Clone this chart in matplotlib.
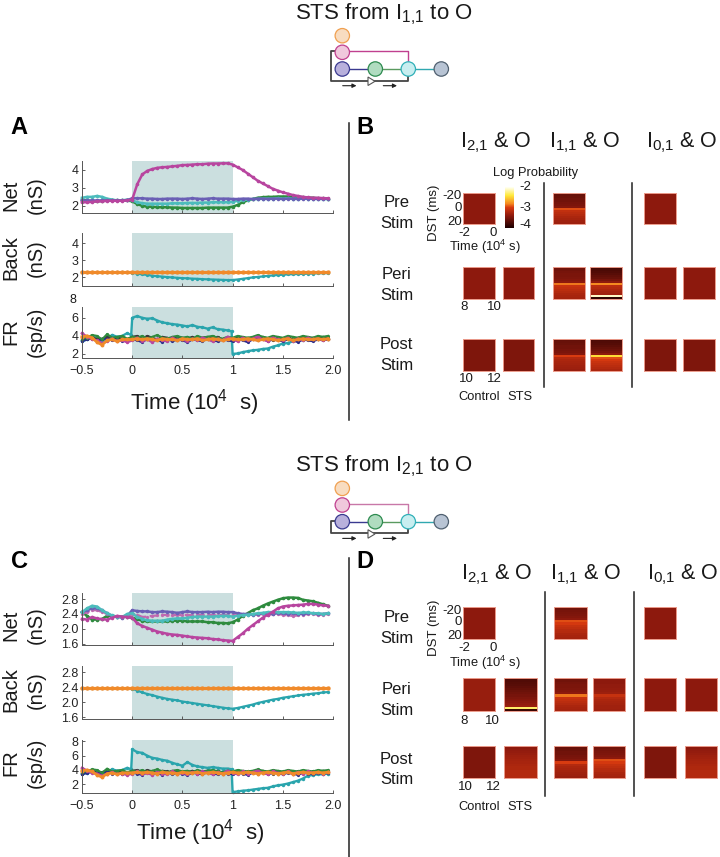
import numpy as np
import matplotlib
matplotlib.use('Agg')
import matplotlib.pyplot as plt
from matplotlib.cm import ScalarMappable
from matplotlib.colors import LinearSegmentedColormap, Normalize
from matplotlib.patches import Circle, Polygon

plt.rcParams['font.family'] = ['Liberation Sans', 'DejaVu Sans']
plt.rcParams['mathtext.fontset'] = 'custom'
plt.rcParams['mathtext.rm'] = 'Liberation Sans'
plt.rcParams['mathtext.default'] = 'regular'

W, H = 720, 857

# Tiempo (10^4 s), cada 0.05
t = np.arange(50) * 0.05 - 0.5
# las celdas estimuladas saltan casi en vertical en 0 y en 1
t_cell = np.sort(np.r_[t, [-0.01, 0.99]])

# Panel A, Net
a_net_magenta = [2.2, 2.2, 2.22, 2.25, 2.25, 2.28, 2.28, 2.28, 2.28, 2.3,
                 2.35, 3.2, 3.75, 3.95, 4.05, 4.12, 4.15, 4.17, 4.2, 4.23, 4.27, 4.28, 4.3, 4.32, 4.32, 4.35, 4.36, 4.36, 4.37, 4.37,
                 4.3, 4.15, 4.0, 3.8, 3.6, 3.4, 3.25, 3.1, 2.95, 2.85, 2.75, 2.68, 2.6, 2.55, 2.5, 2.47, 2.45, 2.45, 2.43, 2.42]
a_net_purple = [2.3, 2.3, 2.3, 2.3, 2.3, 2.3, 2.3, 2.3, 2.3, 2.32,
                2.42, 2.42, 2.42, 2.4, 2.4, 2.38, 2.38, 2.4, 2.4, 2.4, 2.38, 2.4, 2.42, 2.4, 2.38, 2.4, 2.42, 2.4, 2.4, 2.4,
                2.38, 2.38, 2.4, 2.4, 2.38, 2.4, 2.4, 2.38, 2.4, 2.4, 2.38, 2.4, 2.4, 2.38, 2.4, 2.4, 2.4, 2.38, 2.4, 2.4]
a_net_green = [2.35, 2.3, 2.25, 2.25, 2.28, 2.3, 2.3, 2.3, 2.3, 2.3,
               2.25, 2.1, 2.0, 1.95, 1.95, 1.92, 1.92, 1.92, 1.9, 1.9, 1.88, 1.88, 1.88, 1.88, 1.88, 1.9, 1.9, 1.9, 1.9, 1.9,
               1.95, 2.05, 2.2, 2.3, 2.38, 2.45, 2.48, 2.5, 2.5, 2.52, 2.52, 2.52, 2.5, 2.5, 2.48, 2.46, 2.45, 2.42, 2.42, 2.4]
a_net_cyan = [2.45, 2.5, 2.5, 2.55, 2.5, 2.4, 2.35, 2.3, 2.3, 2.35,
              2.3, 2.2, 2.15, 2.12, 2.12, 2.12, 2.12, 2.12, 2.14, 2.14, 2.14, 2.16, 2.16, 2.16, 2.18, 2.18, 2.2, 2.2, 2.2, 2.2,
              2.22, 2.28, 2.32, 2.35, 2.38, 2.38, 2.4, 2.4, 2.4, 2.42, 2.4, 2.42, 2.4, 2.4, 2.42, 2.4, 2.4, 2.4, 2.38, 2.38]

# Panel A, Back
a_back_flat = [2.3] * 50
a_back_teal = [2.3, 2.3, 2.3, 2.3, 2.3, 2.3, 2.3, 2.3, 2.3, 2.3,
               2.28, 2.22, 2.18, 2.15, 2.1, 2.07, 2.05, 2.02, 2.0, 1.98, 1.96, 1.95, 1.93, 1.92, 1.9, 1.89, 1.88, 1.87, 1.86, 1.85,
               1.85, 1.88, 1.92, 1.96, 2.0, 2.03, 2.06, 2.09, 2.12, 2.14, 2.16, 2.18, 2.19, 2.2, 2.21, 2.22, 2.23, 2.24, 2.25, 2.25]

# FR, celdas de fondo (casi iguales en A y C)
fr_orange = [3.9, 4.0, 3.8, 3.3, 3.0, 3.5, 3.6, 3.4, 3.6, 3.6,
             3.6, 3.7, 3.6, 3.7, 3.6, 3.5, 3.7, 3.6, 3.6, 3.5, 3.7, 3.6, 3.6, 3.7, 3.5, 3.6, 3.7, 3.6, 3.5, 3.6,
             3.7, 3.6, 3.6, 3.7, 3.6, 3.5, 3.6, 3.7, 3.6, 3.5, 3.6, 3.7, 3.5, 3.6, 3.7, 3.6, 3.6, 3.7, 3.6, 3.7]
fr_magenta = [4.3, 3.9, 3.6, 3.5, 3.2, 3.4, 3.7, 3.4, 3.5, 3.3,
              3.5, 3.8, 3.4, 3.6, 3.3, 3.7, 3.5, 3.4, 3.8, 3.5, 3.6, 3.4, 3.7, 3.5, 3.8, 3.6, 3.4, 3.7, 3.5, 3.9,
              3.6, 3.4, 3.8, 3.5, 3.7, 3.9, 3.6, 3.4, 3.8, 3.6, 3.5, 3.8, 3.4, 3.7, 3.5, 3.8, 3.6, 3.7, 3.5, 3.7]
fr_green = [3.7, 3.8, 4.1, 4.0, 3.6, 4.2, 3.8, 3.9, 4.0, 3.7,
            3.9, 3.8, 4.0, 3.7, 3.9, 4.1, 3.8, 3.7, 3.9, 4.0, 3.8, 3.9, 3.7, 4.0, 3.8, 3.9, 4.0, 3.8, 3.7, 3.9,
            3.8, 4.0, 3.9, 3.8, 3.9, 4.1, 3.9, 3.8, 4.0, 3.9, 3.8, 4.0, 3.9, 3.8, 4.0, 3.9, 3.8, 4.0, 3.9, 4.0]
fr_dark = [3.5, 3.7, 3.9, 3.6, 3.7, 3.9, 3.6, 3.8, 3.7, 3.6,
           3.9, 4.0, 3.7, 4.0, 3.8, 3.6, 3.9, 3.8, 3.6, 3.9, 3.8, 3.7, 3.9, 3.6, 3.8, 3.9, 3.7, 3.9, 3.6, 3.8,
           3.7, 3.9, 3.6, 3.8, 3.7, 3.6, 3.9, 3.7, 3.5, 3.8, 3.7, 3.9, 3.6, 3.8, 3.9, 3.6, 3.8, 3.7, 3.9, 3.8]
fr_navy = [3.4, 3.6, 3.7, 3.5, 3.6, 3.7, 3.5, 3.6, 3.4, 3.6,
           3.6, 3.5, 3.3, 3.7, 3.4, 3.6, 3.3, 3.7, 3.4, 3.6, 3.5, 3.3, 3.6, 3.5, 3.4, 3.7, 3.5, 3.4, 3.6, 3.5,
           3.4, 3.6, 3.5, 3.3, 3.6, 3.5, 3.7, 3.4, 3.6, 3.5, 3.4, 3.6, 3.5, 3.3, 3.6, 3.5, 3.4, 3.6, 3.5, 3.6]
# Estas dos llevan los dos puntos extra de t_cell
a_fr_teal = [3.4, 3.6, 3.9, 3.8, 3.4, 3.7, 4.1, 3.9, 4.0, 4.3, 4.1,
             6.0, 6.2, 6.0, 5.9, 5.95, 5.7, 5.5, 5.4, 5.3, 5.25, 5.15, 5.05, 5.2, 5.0, 4.95, 4.8, 4.95, 4.75, 4.7, 4.6, 4.5,
             2.0, 2.05, 2.2, 2.3, 2.4, 2.45, 2.55, 2.6, 2.8, 2.95, 3.15, 3.2, 3.4, 3.5, 3.55, 3.6, 3.65, 3.6, 3.7, 3.7]
c_fr_teal = [3.4, 3.6, 3.9, 3.8, 3.4, 3.7, 4.1, 3.9, 4.0, 4.3, 4.1,
             6.9, 6.5, 6.4, 6.0, 5.7, 5.6, 5.4, 5.3, 5.0, 4.8, 4.6, 5.1, 4.7, 4.5, 4.4, 4.3, 4.4, 4.3, 4.2, 4.2, 4.1,
             0.9, 1.0, 1.1, 1.15, 1.25, 1.35, 1.45, 1.5, 1.7, 1.85, 1.95, 2.1, 2.3, 2.5, 2.8, 3.2, 3.3, 3.4, 3.4, 3.5]

# Panel C, Net
c_net_magenta = [2.27, 2.25, 2.32, 2.28, 2.26, 2.25, 2.3, 2.35, 2.33, 2.32,
                 2.3, 2.15, 2.08, 2.03, 1.98, 1.93, 1.9, 1.87, 1.85, 1.84, 1.82, 1.8, 1.78, 1.77, 1.76, 1.75, 1.73, 1.72, 1.7, 1.69,
                 1.68, 1.78, 1.88, 2.0, 2.1, 2.2, 2.3, 2.38, 2.46, 2.55, 2.6, 2.62, 2.63, 2.64, 2.65, 2.67, 2.67, 2.65, 2.63, 2.62]
c_net_green = [2.45, 2.35, 2.25, 2.25, 2.27, 2.35, 2.35, 2.33, 2.33, 2.32,
               2.3, 2.26, 2.22, 2.2, 2.2, 2.2, 2.2, 2.2, 2.22, 2.22, 2.22, 2.2, 2.2, 2.2, 2.2, 2.18, 2.18, 2.16, 2.16, 2.15,
               2.18, 2.25, 2.35, 2.42, 2.5, 2.55, 2.62, 2.68, 2.73, 2.78, 2.82, 2.84, 2.84, 2.83, 2.78, 2.76, 2.74, 2.7, 2.66, 2.62]
c_net_purple = [2.45, 2.5, 2.55, 2.55, 2.5, 2.42, 2.35, 2.33, 2.3, 2.35,
                2.5, 2.48, 2.47, 2.47, 2.45, 2.45, 2.47, 2.46, 2.45, 2.43, 2.45, 2.47, 2.45, 2.45, 2.45, 2.46, 2.45, 2.46, 2.46, 2.45,
                2.45, 2.42, 2.4, 2.4, 2.38, 2.4, 2.42, 2.4, 2.4, 2.42, 2.42, 2.4, 2.42, 2.4, 2.4, 2.42, 2.42, 2.4, 2.4, 2.42]
c_net_cyan = [2.45, 2.55, 2.62, 2.6, 2.5, 2.42, 2.36, 2.33, 2.32, 2.4,
              2.42, 2.32, 2.27, 2.23, 2.22, 2.22, 2.22, 2.25, 2.27, 2.28, 2.28, 2.3, 2.32, 2.33, 2.33, 2.33, 2.33, 2.34, 2.35, 2.35,
              2.33, 2.35, 2.37, 2.38, 2.4, 2.42, 2.43, 2.45, 2.45, 2.45, 2.45, 2.45, 2.44, 2.43, 2.44, 2.44, 2.42, 2.42, 2.4, 2.42]
c_net_dashed = [2.4, 2.45, 2.5, 2.5, 2.45, 2.4, 2.35, 2.33, 2.32, 2.33,
                2.4, 2.38, 2.32, 2.33, 2.35, 2.36, 2.38, 2.37, 2.36, 2.38, 2.37, 2.38, 2.36, 2.38, 2.37, 2.38, 2.37, 2.36, 2.38, 2.37,
                2.36, 2.37, 2.38, 2.38, 2.4, 2.38, 2.4, 2.38, 2.4, 2.4, 2.38, 2.36, 2.35, 2.36, 2.38, 2.4, 2.4, 2.38, 2.38, 2.4]

# Panel C, Back
c_back_flat = [2.37] * 50
c_back_teal = [2.37, 2.37, 2.37, 2.37, 2.37, 2.37, 2.37, 2.37, 2.37, 2.37,
               2.36, 2.31, 2.26, 2.22, 2.19, 2.15, 2.12, 2.09, 2.07, 2.05, 2.02, 2.0, 1.98, 1.96, 1.94, 1.92, 1.9, 1.88, 1.86, 1.84,
               1.83, 1.85, 1.88, 1.91, 1.94, 1.98, 2.01, 2.04, 2.07, 2.09, 2.12, 2.14, 2.16, 2.18, 2.2, 2.21, 2.23, 2.24, 2.26, 2.27]

# Perfiles de log probabilidad por fila (de arriba a abajo)
flat_dark = [-3.48] * 16
flat_mid = [-3.4] * 16
flat_bright = [-3.35] * 16
band_pre = [-3.6, -3.6, -3.58, -3.55, -3.55, -3.52, -3.5, -3.45, -2.95, -3.12, -3.16, -3.2, -3.24, -3.27, -3.3, -3.32]
band_peri = [-3.55, -3.55, -3.52, -3.5, -3.5, -3.48, -3.45, -3.4, -2.85, -3.08, -3.12, -3.16, -3.2, -3.24, -3.26, -3.28]
band_peri_sts = [-3.78, -3.75, -3.72, -3.68, -3.64, -3.6, -3.52, -3.4, -2.8, -3.15, -3.2, -3.24, -3.28, -3.3, -2.1, -3.9]
band_post = [-3.62, -3.6, -3.58, -3.55, -3.55, -3.52, -3.5, -3.45, -3.0, -3.2, -3.24, -3.26, -3.28, -3.3, -3.32, -3.34]
band_post_sts = [-3.75, -3.72, -3.7, -3.66, -3.62, -3.58, -3.52, -3.4, -2.45, -2.95, -3.02, -3.08, -3.12, -3.16, -3.2, -3.24]
d_band_pre = [-3.55, -3.55, -3.52, -3.5, -3.48, -3.45, -3.4, -2.95, -3.02, -3.1, -3.14, -3.18, -3.2, -3.24, -3.26, -3.28]
d_band_weak = [-3.42, -3.4, -3.4, -3.38, -3.38, -3.36, -3.35, -3.32, -3.1, -3.2, -3.24, -3.26, -3.28, -3.3, -3.3, -3.32]
d_peri_sts = [-3.75, -3.72, -3.7, -3.68, -3.65, -3.62, -3.58, -3.55, -3.52, -3.48, -3.45, -3.42, -3.38, -3.35, -2.3, -3.85]
d_post_sts = [-3.42, -3.4, -3.38, -3.36, -3.34, -3.32, -3.3, -3.28, -3.26, -3.24, -3.22, -3.22, -3.2, -3.2, -3.2, -3.2]

cmap_dst = LinearSegmentedColormap.from_list(
    'dst', [(0, '#1e0000'), (0.3, '#8e1a0e'), (0.5, '#d83a10'), (0.6, '#f58a20'), (0.8, '#ffe83a'), (1, '#fffff0')])
norm_dst = Normalize(-4, -2)

C_MAGENTA = '#b8459f'
C_PURPLE = '#6a5fb5'
C_GREEN = '#2e8b3e'
C_CYAN = '#4cbcbc'
C_TEAL = '#2aa5ad'
C_ORANGE = '#f08a2a'
C_DARK = '#3a3a3a'
C_NAVY = '#2b2b8a'
C_PINK = '#c06ab0'
C_SHADE = '#cbdfdf'

fig = plt.figure(figsize=(W / 100, H / 100), dpi=100)

# Eje de fondo en pixeles para textos y el diagrama
bg = fig.add_axes([0, 0, 1, 1])
bg.set_xlim(0, W)
bg.set_ylim(H, 0)
bg.axis('off')


def ax_px(x0, y0, x1, y1):
    ax = fig.add_axes([x0 / W, 1 - y1 / H, (x1 - x0) / W, (y1 - y0) / H])
    ax.patch.set_alpha(0)
    return ax


def label(x, y, s, size=9.3, **kw):
    bg.text(x, y, s, fontsize=size, ha=kw.pop('ha', 'center'), va=kw.pop('va', 'center'), color='#1a1a1a', **kw)


def trace_axes(box, ylim, yticks, yfmt, series, xlabels=False):
    ax = ax_px(*box)
    ax.axvspan(0, 1, color=C_SHADE, lw=0, zorder=0)
    for x, y, col, ls, lw in series:
        ax.plot(x, y, color=col, lw=lw, ls=ls, marker='o', ms=lw + 0.8, mew=0, clip_on=False, zorder=2)
    ax.set_xlim(-0.5, 2.0)
    ax.set_ylim(*ylim)
    ax.set_yticks(yticks)
    ax.set_yticklabels([yfmt % v for v in yticks])
    ax.set_xticks([-0.5, 0, 0.5, 1, 1.5, 2.0])
    if xlabels:
        ax.set_xticklabels(['\u22120.5', '0', '0.5', '1', '1.5', '2.0'])
    else:
        ax.set_xticklabels([])
    ax.tick_params(direction='in', length=2.5, width=0.6, color='#444444', labelsize=9, pad=2.5, labelcolor='#222222')
    ax.tick_params(axis='x', pad=5)
    for side in ['top', 'right']:
        ax.spines[side].set_visible(False)
    for side in ['left', 'bottom']:
        ax.spines[side].set_linewidth(0.7)
        ax.spines[side].set_color('#555555')
    return ax


def heat(x0, y0, x1, y1, profile):
    ax = ax_px(x0, y0, x1, y1)
    ax.imshow(np.array(profile)[:, None], cmap=cmap_dst, norm=norm_dst, aspect='auto', interpolation='nearest')
    ax.set_xticks([])
    ax.set_yticks([])
    for s in ax.spines.values():
        s.set_color('#ec9c8c')
        s.set_linewidth(0.7)


def diagram(dy, src_y):
    xs = [342.3, 375.3, 408.3, 441.3]
    row = 69 + dy
    line = dict(solid_capstyle='butt', zorder=1)
    bg.plot([xs[0], xs[1]], [row, row], color='#3a3a90', lw=1, **line)
    bg.plot([xs[1], xs[2]], [row, row], color='#5a9a60', lw=1, **line)
    bg.plot([xs[2], xs[3]], [row, row], color='#30a8b0', lw=1, **line)
    bg.plot([xs[0], xs[2], xs[2]], [51 + dy, 51 + dy, 61.5 + dy], color='#c0408f' if dy == 0 else '#c878a8', lw=1, **line)
    bg.plot([335, 330.7, 330.7, xs[2], xs[2]], [src_y, src_y, 80.7 + dy, 80.7 + dy, 74 + dy], color='#444444', lw=1.3, **line)
    nodes = [(xs[0], 35.7 + dy, '#f8dcc0', '#f0a050'), (xs[0], 52.3 + dy, '#f0c8dc', '#c0408f'),
             (xs[0], row, '#b8b0dc', '#3a3a90'), (xs[1], row, '#b0dcc0', '#2e8b50'),
             (xs[2], row, '#c8eef0', '#30b0b8'), (xs[3], row, '#b8c4d4', '#506070')]
    for x, y, fc, ec in nodes:
        bg.add_patch(Circle((x, y), 7.2, fc=fc, ec=ec, lw=0.9, zorder=2))
    bg.add_patch(Polygon([(368, 77 + dy), (368, 85.5 + dy), (375, 81.3 + dy)], fc='white', ec='#555555', lw=0.8, zorder=3))
    for x0, x1 in [(342.7, 356.5), (383.3, 397)]:
        bg.annotate('', xy=(x1, 85.7 + dy), xytext=(x0, 85.7 + dy),
                    arrowprops=dict(arrowstyle='-|>', color='#222222', lw=0.8, mutation_scale=6, shrinkA=0, shrinkB=0))


# Titulos y diagramas
label(384, 14, 'STS from I$_{1{,}1}$ to O', size=16)
label(384, 466, 'STS from I$_{2{,}1}$ to O', size=16)
diagram(0, 51)
diagram(452.7, 521)

# Letras de panel
for x, y, s in [(19, 127, 'A'), (365, 127, 'B'), (20, 562, 'C'), (365, 562, 'D')]:
    bg.text(x, y, s, fontsize=17, fontweight='bold', ha='center', va='center')

# Separadores verticales
bg.plot([349, 349], [123, 420], color='#222222', lw=1.1)
bg.plot([349, 349], [558, 857], color='#222222', lw=1.1)
for x, y0, y1 in [(543.7, 183, 386.7), (632, 183, 386.7), (545, 592, 796), (633.7, 592, 796)]:
    bg.plot([x, x], [y0, y1], color='#222222', lw=1.1)

# Panel A
trace_axes((82, 161, 333, 213), (1.6, 4.5), [2, 3, 4], '%d',
           [(t, a_net_green, C_GREEN, '-', 1.8), (t, a_net_cyan, C_CYAN, '-', 1.8),
            (t, a_net_purple, C_PURPLE, '-', 1.8), (t, a_net_magenta, C_MAGENTA, '-', 1.8)])
trace_axes((82, 233, 333, 286), (1.5, 4.6), [2, 3, 4], '%d',
           [(t, a_back_teal, C_TEAL, '-', 1.6), (t, a_back_flat, C_ORANGE, '-', 2.3)])
fr_back = [(t, fr_dark, C_DARK, '-', 1.5), (t, fr_navy, C_NAVY, '-', 1.5), (t, fr_green, C_GREEN, '-', 1.5),
           (t, fr_magenta, C_MAGENTA, '-', 1.7), (t, fr_orange, C_ORANGE, '-', 2.0)]
trace_axes((82, 307, 333, 358), (1.55, 7.2), [2, 4, 6], '%d',
           [(t_cell, a_fr_teal, C_TEAL, '-', 1.7)] + fr_back, xlabels=True)
label(76, 300, '8', size=9, ha='right')
label(194, 403, 'Time (10$^{4}$  s)', size=16)

# Panel C
c_ticks = [1.6, 2.0, 2.4, 2.8]
trace_axes((82, 592.7, 333, 645), (1.57, 2.97), c_ticks, '%.1f',
           [(t, c_net_green, C_GREEN, '-', 1.8), (t, c_net_dashed, C_PINK, '--', 1.6), (t, c_net_purple, C_PURPLE, '-', 1.8),
            (t, c_net_cyan, C_CYAN, '-', 1.8), (t, c_net_magenta, C_MAGENTA, '-', 1.8)])
trace_axes((82, 666, 333, 719.3), (1.55, 2.96), c_ticks, '%.1f',
           [(t, c_back_teal, C_TEAL, '-', 1.6), (t, c_back_flat, C_ORANGE, '-', 2.3)])
trace_axes((82, 740, 333, 793), (0.78, 8.2), [2, 4, 6, 8], '%d',
           [(t_cell, c_fr_teal, C_TEAL, '-', 1.7)] + fr_back, xlabels=True)
label(200, 833, 'Time (10$^{4}$  s)', size=16)

# Etiquetas de eje y, rotadas
for y, top, bottom in [(195, 'Net', '(nS)'), (258, 'Back', '(nS)'), (332, 'FR', '(sp/s)'),
                       (625, 'Net', '(nS)'), (690, 'Back', '(nS)'), (763, 'FR', '(sp/s)')]:
    label(11, y, top, size=14.5, rotation=90)
    label(36, y, bottom, size=14.5, rotation=90)

# Panel B
b_cols = [(462.7, 494.7), (502.7, 534.3), (553, 585), (590.3, 622.3), (643.7, 675.7), (682.7, 714.7)]
b_rows = [(192.7, 224.3), (267.3, 299.3), (339, 370.7)]
b_cells = [(0, 0, flat_mid), (2, 0, band_pre), (4, 0, flat_mid),
           (0, 1, flat_mid), (1, 1, flat_mid), (2, 1, band_peri), (3, 1, band_peri_sts), (4, 1, flat_mid), (5, 1, flat_mid),
           (0, 2, flat_dark), (1, 2, flat_dark), (2, 2, band_post), (3, 2, band_post_sts), (4, 2, flat_dark), (5, 2, flat_dark)]
for c, r, prof in b_cells:
    heat(b_cols[c][0], b_rows[r][0], b_cols[c][1], b_rows[r][1], prof)

# Panel D
d_cols = [(462.7, 495.3), (504.3, 536.7), (554.3, 587), (592.7, 625.3), (644, 676.3), (684.7, 717)]
d_rows = [(607, 639.3), (678.3, 710.7), (745.7, 778)]
d_cells = [(0, 0, flat_mid), (2, 0, d_band_pre), (4, 0, flat_mid),
           (0, 1, flat_bright), (1, 1, d_peri_sts), (2, 1, band_peri), (3, 1, d_band_weak), (4, 1, flat_mid), (5, 1, flat_mid),
           (0, 2, flat_dark), (1, 2, d_post_sts), (2, 2, band_post), (3, 2, d_band_pre), (4, 2, flat_dark), (5, 2, d_post_sts)]
for c, r, prof in d_cells:
    heat(d_cols[c][0], d_rows[r][0], d_cols[c][1], d_rows[r][1], prof)

# Barra de color
cax = ax_px(505.3, 187.3, 514, 227.7)
cb = fig.colorbar(ScalarMappable(norm=norm_dst, cmap=cmap_dst), cax=cax)
cb.outline.set_visible(False)
cb.set_ticks([])
label(536, 172.7, 'Log Probability')
for y, s in [(187.3, '-2'), (207.7, '-3'), (225, '-4')]:
    label(525.7, y, s, size=9.5)

# Textos de los paneles de calor
hdr = ['I$_{2{,}1}$ & O', 'I$_{1{,}1}$ & O', 'I$_{0{,}1}$ & O']
for x, s in zip([495.7, 585, 681.7], hdr):
    label(x, 143, s, size=15.5)
for x, s in zip([497, 586, 683], hdr):
    label(x, 575, s, size=15.5)

texts = [(396.7, 202.7, 'Pre'), (396.7, 223.3, 'Stim'), (396.7, 274.3, 'Peri'), (396.7, 295.7, 'Stim'),
         (396.7, 344.3, 'Post'), (396.7, 365, 'Stim'), (396.7, 617.3, 'Pre'), (396.7, 638.3, 'Stim'),
         (396.7, 689.3, 'Peri'), (396.7, 710.7, 'Stim'), (396.7, 759.3, 'Post'), (396.7, 780, 'Stim')]
for x, y, s in texts:
    label(x, y, s, size=12)

small = [(458, 195.7, '-20'), (458, 207.7, '0'), (458, 221.7, '20'), (464.7, 232.7, '-2'), (493.3, 232.7, '0'),
         (464, 307.3, '8'), (494.3, 307.3, '10'), (466, 379.3, '10'), (494, 379.3, '12'),
         (458, 611, '-20'), (458, 622.3, '0'), (458, 636, '20'), (464.7, 648.3, '-2'), (493, 648.3, '0'),
         (463.7, 721, '8'), (492.7, 721, '10'), (465.7, 786.7, '10'), (493.3, 786.7, '12')]
for x, y, s in small:
    ha = 'right' if x == 458 else 'center'
    label(x + (4 if ha == 'right' else 0), y, s, size=9.5, ha=ha)

label(485, 247, 'Time (10$^{4}$ s)')
label(485, 663.3, 'Time (10$^{4}$ s)')
label(434, 213, 'DST (ms)', size=9.5, rotation=90)
label(434, 628, 'DST (ms)', size=9.5, rotation=90)
for y in [397.3, 807.3]:
    label(479, y, 'Control')
    label(520, y, 'STS')

fig.savefig('out.png', dpi=100)
